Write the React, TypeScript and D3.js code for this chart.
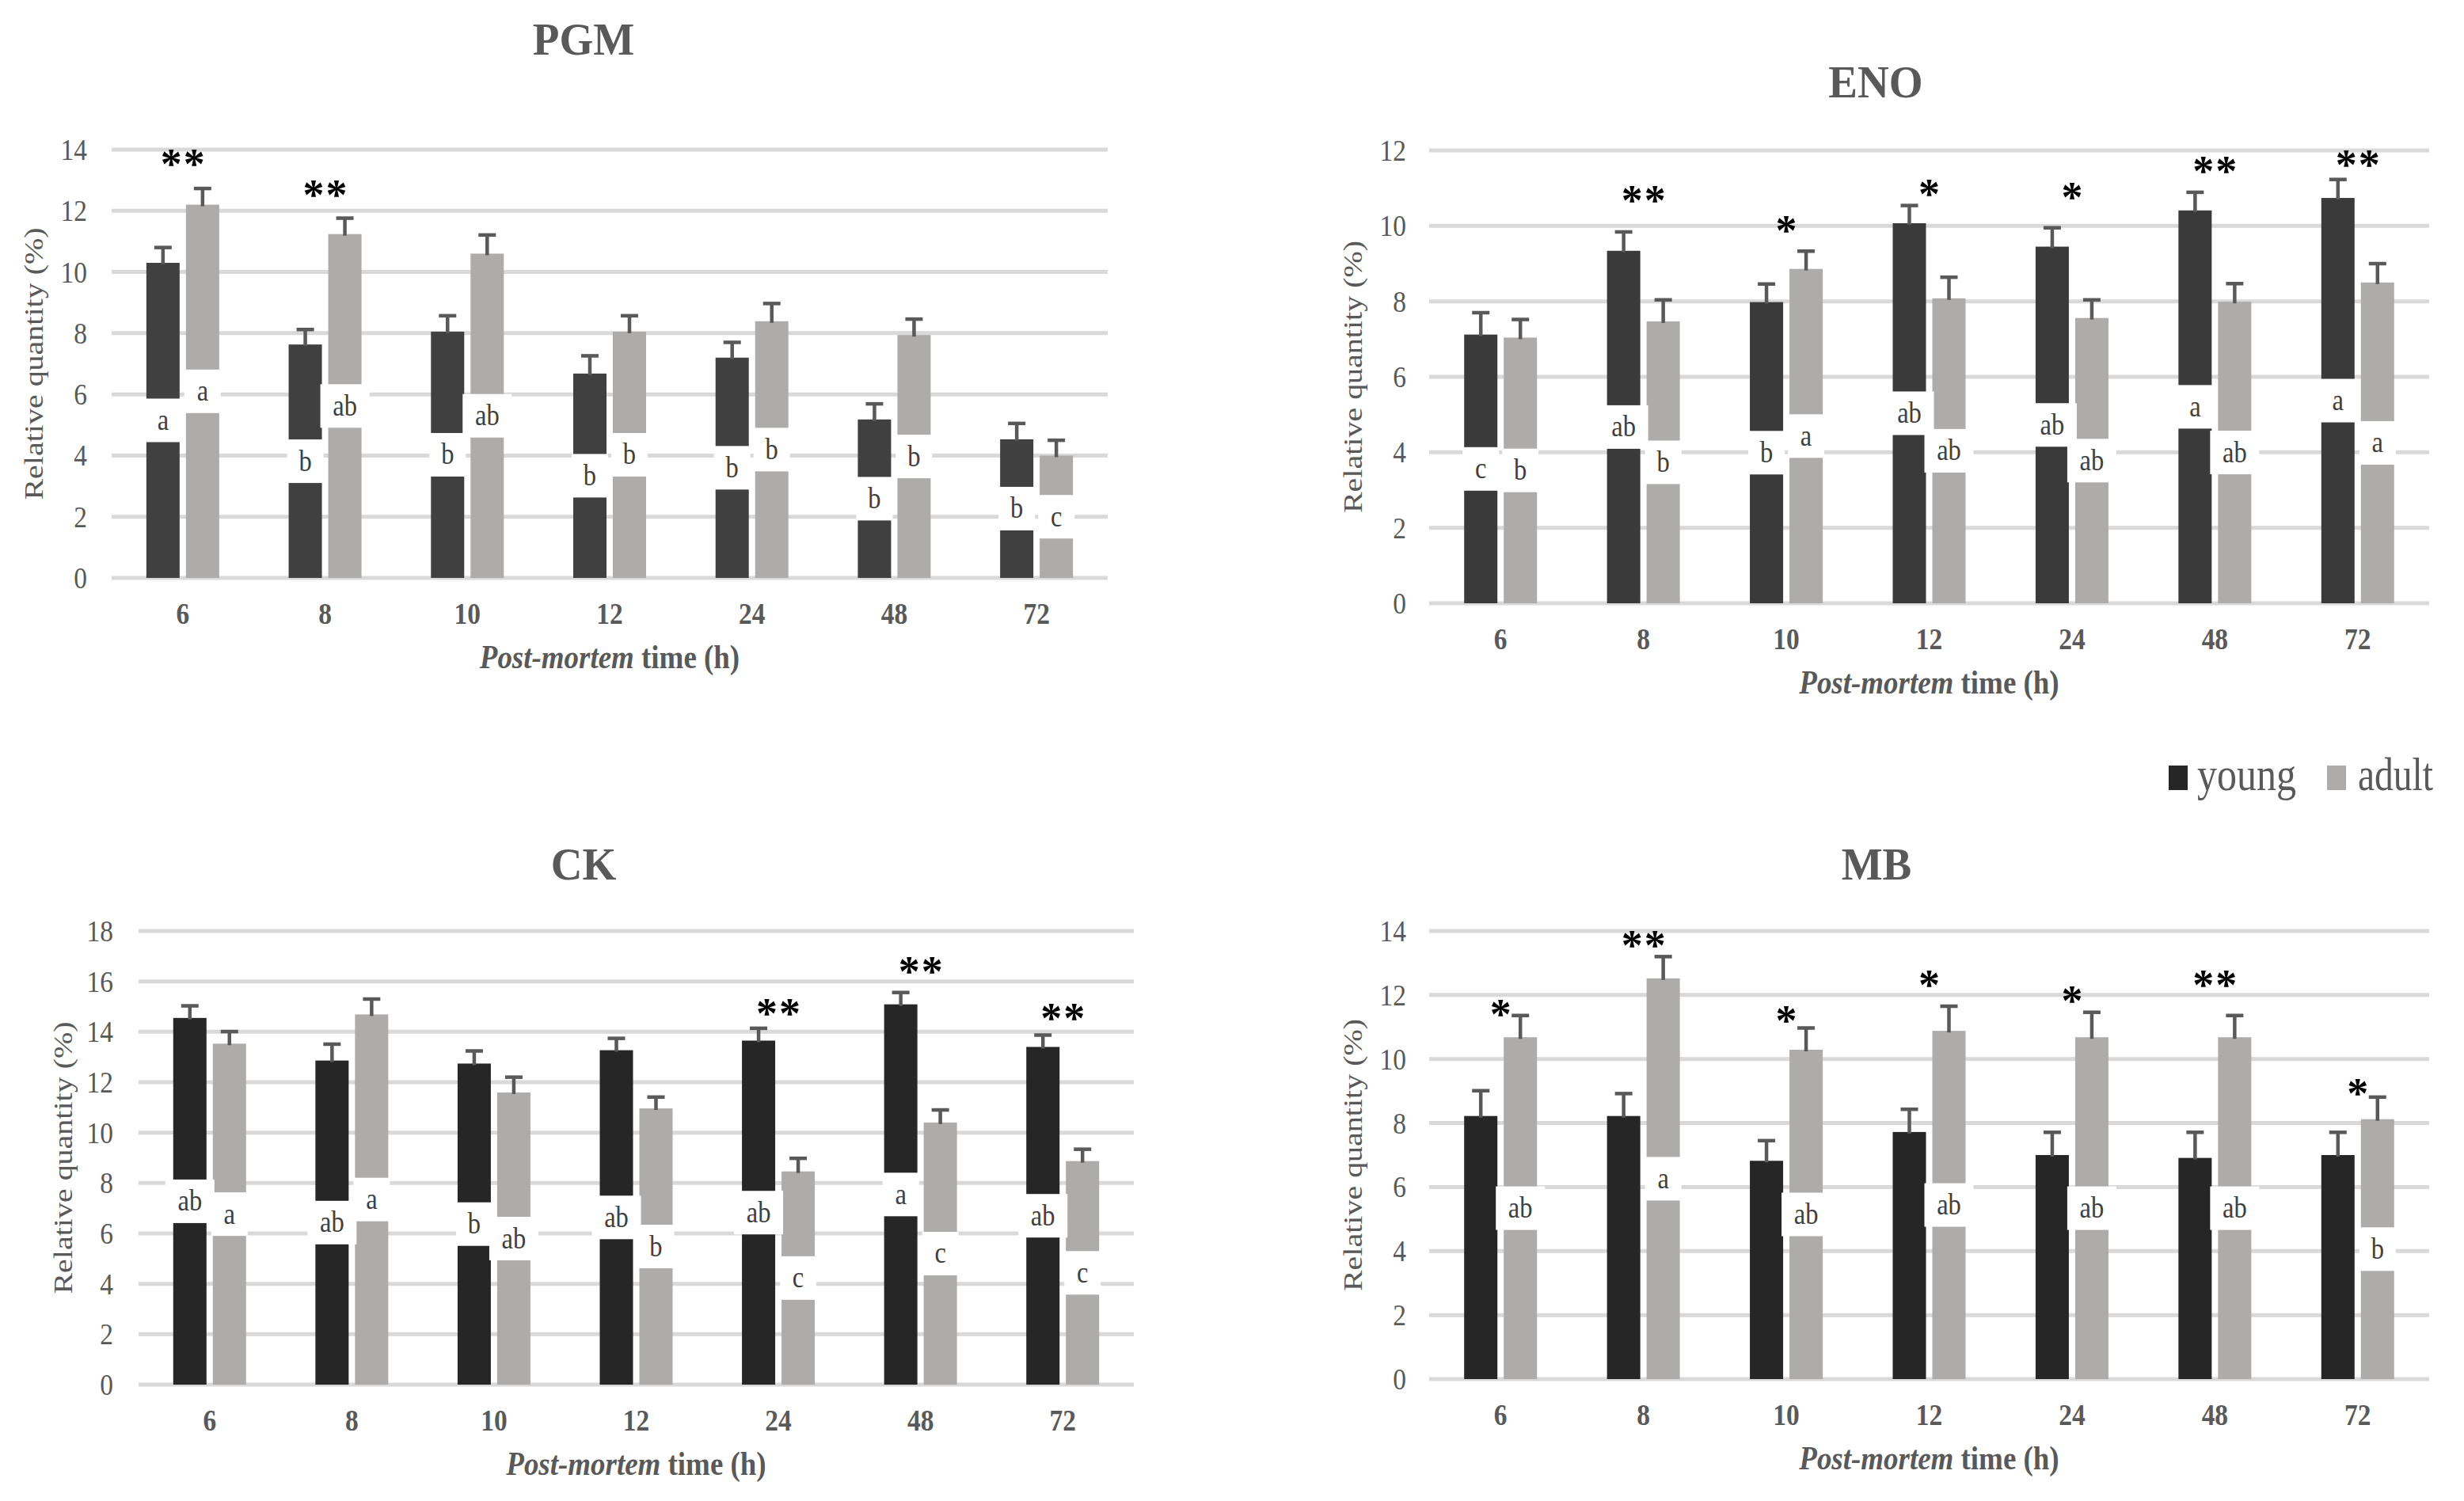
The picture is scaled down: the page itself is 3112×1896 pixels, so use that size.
import React from 'react';
import * as d3 from 'd3';

const width = 3112;
const height = 1896;

// DATA ===========================================

const categories = ['6', '8', '10', '12', '24', '48', '72'];
const series = ['young', 'adult'];

// PGM
const pgmYoung = [10.3, 7.63, 8.05, 6.68, 7.2, 5.18, 4.53];
const pgmYoungErr = [0.5, 0.49, 0.52, 0.58, 0.5, 0.51, 0.52];
const pgmAdult = [12.2, 11.24, 10.6, 8.05, 8.39, 7.94, 4.0];
const pgmAdultErr = [0.53, 0.52, 0.61, 0.52, 0.58, 0.52, 0.5];
const pgmYoungLetters = ['a', 'b', 'b', 'b', 'b', 'b', 'b'];
const pgmAdultLetters = ['a', 'ab', 'ab', 'b', 'b', 'b', 'c'];
const pgmStars = ['**', '**', '', '', '', '', ''];
const pgmStarLevel = [13.72, 12.7, 0, 0, 0, 0, 0];

// ENO
const enoYoung = [7.12, 9.34, 7.98, 10.07, 9.45, 10.41, 10.74];
const enoYoungErr = [0.58, 0.5, 0.48, 0.47, 0.5, 0.48, 0.49];
const enoAdult = [7.04, 7.47, 8.86, 8.08, 7.56, 7.99, 8.5];
const enoAdultErr = [0.48, 0.57, 0.47, 0.56, 0.48, 0.48, 0.5];
const enoYoungLetters = ['c', 'ab', 'b', 'ab', 'ab', 'a', 'a'];
const enoAdultLetters = ['b', 'b', 'a', 'ab', 'ab', 'ab', 'a'];
const enoStars = ['', '**', '*', '*', '*', '**', '**'];
const enoStarLevel = [0, 10.82, 10.02, 10.99, 10.9, 11.61, 11.77];

// CK
const ckYoung = [14.55, 12.86, 12.74, 13.27, 13.65, 15.09, 13.4];
const ckYoungErr = [0.48, 0.65, 0.5, 0.47, 0.49, 0.47, 0.47];
const ckAdult = [13.53, 14.69, 11.59, 10.96, 8.46, 10.4, 8.87];
const ckAdultErr = [0.48, 0.61, 0.61, 0.45, 0.52, 0.5, 0.47];
const ckYoungLetters = ['ab', 'ab', 'b', 'ab', 'ab', 'a', 'ab'];
const ckAdultLetters = ['a', 'a', 'ab', 'b', 'c', 'c', 'c'];
const ckStars = ['', '', '', '', '**', '**', '**'];
const ckStarLevel = [0, 0, 0, 0, 14.95, 16.62, 14.77];

// MB
const mbYoung = [8.22, 8.22, 6.82, 7.72, 7.0, 6.91, 7.0];
const mbYoungErr = [0.79, 0.7, 0.63, 0.71, 0.71, 0.8, 0.71];
const mbAdult = [10.68, 12.52, 10.29, 10.88, 10.68, 10.68, 8.12];
const mbAdultErr = [0.68, 0.68, 0.68, 0.77, 0.78, 0.68, 0.69];
const mbYoungLetters = ['', '', '', '', '', '', ''];
const mbAdultLetters = ['ab', 'a', 'ab', 'ab', 'ab', 'ab', 'b'];
const mbStars = ['*', '**', '*', '*', '*', '**', '*'];
const mbStarLevel = [11.57, 13.73, 11.39, 12.48, 11.99, 12.48, 9.1];

// LAYOUT ===========================================

const font = '"Liberation Serif", "Times New Roman", serif';
const textGrey = '#595959';
const adultColor = '#aeabab';
const squeeze = 0.88;

const panels = [
  {
    title: 'PGM', max: 14, young: pgmYoung, youngErr: pgmYoungErr, adult: pgmAdult, adultErr: pgmAdultErr,
    youngLetters: pgmYoungLetters, adultLetters: pgmAdultLetters, stars: pgmStars, starLevel: pgmStarLevel,
    youngColor: '#404040',
    left: 141, right: 1399, top: 189, bottom: 730, titleX: 737, titleY: 69, tickRight: 110, yTitleX: 54
  },
  {
    title: 'ENO', max: 12, young: enoYoung, youngErr: enoYoungErr, adult: enoAdult, adultErr: enoAdultErr,
    youngLetters: enoYoungLetters, adultLetters: enoAdultLetters, stars: enoStars, starLevel: enoStarLevel,
    youngColor: '#3a3a3a',
    left: 1805, right: 3068, top: 190, bottom: 762, titleX: 2369, titleY: 123, tickRight: 1776, yTitleX: 1720
  },
  {
    title: 'CK', max: 18, young: ckYoung, youngErr: ckYoungErr, adult: ckAdult, adultErr: ckAdultErr,
    youngLetters: ckYoungLetters, adultLetters: ckAdultLetters, stars: ckStars, starLevel: ckStarLevel,
    youngColor: '#262626',
    left: 175, right: 1432, top: 1176, bottom: 1749, titleX: 737, titleY: 1111, tickRight: 143, yTitleX: 91
  },
  {
    title: 'MB', max: 14, young: mbYoung, youngErr: mbYoungErr, adult: mbAdult, adultErr: mbAdultErr,
    youngLetters: mbYoungLetters, adultLetters: mbAdultLetters, stars: mbStars, starLevel: mbStarLevel,
    youngColor: '#262626',
    left: 1805, right: 3068, top: 1176, bottom: 1742, titleX: 2370, titleY: 1111, tickRight: 1776, yTitleX: 1720
  }
];

// squeezed text, like the original export
const Txt = ({ x, y, sx = squeeze, children, ...rest }: any) => (
  <text transform={`translate(${x},${y}) scale(${sx},1)`} fontFamily={font} {...rest}>
    {children}
  </text>
);

// PANEL ===========================================

const Panel = ({ p }: any) => {
  const xScale = d3.scaleBand().domain(categories).range([p.left, p.right]);
  const bw = xScale.bandwidth();
  const xSeries = d3.scaleBand().domain(series).range([bw / 2 - 46, bw / 2 + 46]).paddingInner(0.16);
  const yScale = d3.scaleLinear().domain([0, p.max]).range([p.bottom, p.top]);
  const ticks = yScale.ticks(p.max / 2);
  const barW = xSeries.bandwidth();

  const bars = categories.flatMap((c, i) => [
    { key: 'young', cat: c, value: p.young[i], err: p.youngErr[i], letter: p.youngLetters[i], fill: p.youngColor },
    { key: 'adult', cat: c, value: p.adult[i], err: p.adultErr[i], letter: p.adultLetters[i], fill: adultColor }
  ]).map(d => ({
    ...d,
    x: (xScale(d.cat) as number) + (xSeries(d.key) as number),
    y: yScale(d.value),
    h: p.bottom - yScale(d.value)
  }));

  const midX = (p.left + p.right) / 2;

  return (
    <g>
      <Txt x={p.titleX} y={p.titleY} sx={0.95} fontSize={58} fontWeight="bold" fill={textGrey} textAnchor="middle">
        {p.title}
      </Txt>

      {ticks.map(t => (
        <line key={'g' + t} x1={p.left} x2={p.right} y1={yScale(t)} y2={yScale(t)} stroke="#d9d9d9" strokeWidth={5} />
      ))}
      {ticks.map(t => (
        <Txt key={'t' + t} x={p.tickRight} y={yScale(t) + 13} fontSize={38} fill={textGrey} textAnchor="end">
          {t}
        </Txt>
      ))}

      <text
        transform={`translate(${p.yTitleX},${(p.top + p.bottom) / 2}) rotate(-90) scale(1,0.85)`}
        fontFamily={font}
        fontSize={40}
        fill={textGrey}
        textAnchor="middle"
      >
        Relative quantity (%)
      </text>

      {bars.map(b => (
        <rect key={'b' + b.key + b.cat} x={b.x} y={b.y} width={barW} height={b.h} fill={b.fill} />
      ))}

      {bars.map(b => {
        const cx = b.x + barW / 2;
        const top = yScale(b.value + b.err);
        return (
          <g key={'e' + b.key + b.cat} stroke="#595959" strokeWidth={4.5}>
            <line x1={cx} x2={cx} y1={b.y + 2} y2={top} />
            <line x1={cx - 11} x2={cx + 11} y1={top} y2={top} />
          </g>
        );
      })}

      {bars.filter(b => b.letter).map(b => {
        const cx = b.x + barW / 2;
        const cy = yScale(b.value / 2);
        const w = 30 + b.letter.length * 16;
        return (
          <g key={'l' + b.key + b.cat}>
            <rect x={cx - w / 2} y={cy - 27.5} width={w} height={55} fill="#ffffff" />
            <Txt x={cx} y={cy + 12} fontSize={37} fill="#404040" textAnchor="middle">
              {b.letter}
            </Txt>
          </g>
        );
      })}

      {categories.map((c, i) => {
        const s = p.stars[i];
        if (!s) return null;
        const cx = (xScale(c) as number) + bw / 2;
        const cy = yScale(p.starLevel[i]);
        const offs = s.length === 2 ? [-14.5, 14.5] : [0];
        return offs.map((o, k) => (
          <text key={'s' + c + k} x={cx + o} y={cy + 25} fontFamily={font} fontWeight="bold" fontSize={54} fill="#000" textAnchor="middle">
            *
          </text>
        ));
      })}

      {categories.map(c => (
        <Txt key={'x' + c} x={(xScale(c) as number) + bw / 2} y={p.bottom + 58} fontSize={38} fontWeight="bold" fill={textGrey} textAnchor="middle">
          {c}
        </Txt>
      ))}

      <Txt x={midX} y={p.bottom + 114} fontSize={42} fontWeight="bold" fill={textGrey} textAnchor="middle">
        <tspan fontStyle="italic">Post-mortem</tspan> time (h)
      </Txt>
    </g>
  );
};

const Legend = () => (
  <g fontFamily={font} fontSize={60} fill={textGrey}>
    <rect x={2739} y={967} width={24} height={31} fill="#262626" />
    <text x={2775} y={998} textLength={125} lengthAdjust="spacingAndGlyphs">young</text>
    <rect x={2939} y={967} width={24} height={31} fill={adultColor} />
    <text x={2978} y={998} textLength={95} lengthAdjust="spacingAndGlyphs">adult</text>
  </g>
);

const App = () => {
  return (
    <div style={{ position: 'absolute', left: 0, top: 0 }}>
      <svg width={width} height={height} style={{ display: 'block', background: '#fff' }}>
        {panels.map(p => (
          <Panel key={p.title} p={p} />
        ))}
        <Legend />
      </svg>
    </div>
  );
};

export default App;
